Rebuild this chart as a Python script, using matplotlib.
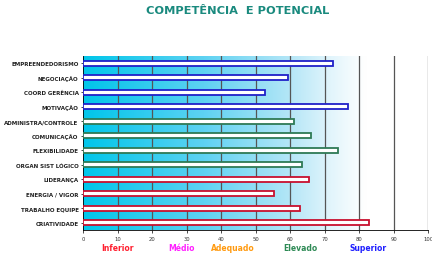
import numpy as np
import matplotlib
matplotlib.use('Agg')
from matplotlib import pyplot as plt
from matplotlib.colors import LinearSegmentedColormap

# Data
categories = ['EMPREENDEDORISMO', 'NEGOCIAÇÃO', 'COORD GERÊNCIA', 'MOTIVAÇÃO',
              'ADMINISTRA/CONTROLE', 'COMUNICAÇÃO', 'FLEXIBILIDADE', 'ORGAN SIST LÓGICO',
              'LIDERANÇA', 'ENERGIA / VIGOR', 'TRABALHO EQUIPE', 'CRIATIVIDADE']
values = [72.5, 59.3, 52.6, 76.8, 61.0, 65.9, 74.0, 63.3, 65.5, 55.4, 62.8, 82.9]
groups = ['blue'] * 4 + ['green'] * 4 + ['red'] * 4
levels = ['Inferior', 'Médio', 'Adequado', 'Elevado', 'Superior']
level_pos = [10, 28.5, 43.5, 63, 82.5]
x_ticks = list(range(0, 101, 10))

edge_colors = {'blue': '#2020c8', 'green': '#2e7a55', 'red': '#c8102e'}
level_colors = ['#ff2030', '#ff20ff', '#ff9a10', '#2e8a55', '#2020ff']

fig = plt.figure(figsize=(4.32, 2.55), dpi=100)
ax = fig.add_axes([0.193, 0.094, 0.798, 0.682])

# background gradient (cyan -> white)
cmap = LinearSegmentedColormap.from_list('bg', [(0.0, '#00c6ea'), (0.35, '#5ed2f2'),
                                                (0.6, '#b4e6f7'), (0.72, '#e2f5fc'),
                                                (0.82, '#ffffff'), (1.0, '#ffffff')])
grad = np.linspace(0, 1, 256).reshape(1, -1)
ax.imshow(grad, extent=[0, 100, -0.5, len(categories) - 0.5], aspect='auto',
          cmap=cmap, zorder=0, origin='lower')

# grid lines
for t in x_ticks[1:]:
    ax.axvline(t, color='#555555', lw=0.9, zorder=1)

y = np.arange(len(categories))
for yi, v, g in zip(y, values, groups):
    ax.barh(yi, v, height=0.36, color='white', edgecolor=edge_colors[g],
            linewidth=1.3, zorder=3)

ax.set_xlim(0, 100)
ax.set_ylim(len(categories) - 0.5, -0.5)
ax.set_xticks(x_ticks)
ax.set_xticklabels([str(t) for t in x_ticks], fontsize=3.8, color='#333333')
ax.set_yticks(y)
ax.set_yticklabels(categories, fontsize=4, fontweight='bold', color='#222222')
ax.tick_params(axis='x', length=2, width=0.5, pad=2)
ax.tick_params(axis='y', length=1.5, width=0.5, pad=2)
for s in ['top', 'right']:
    ax.spines[s].set_visible(False)
ax.spines['left'].set_linewidth(0.6)
ax.spines['bottom'].set_linewidth(0.6)

fig.text(0.55, 0.958, 'COMPETÊNCIA  E POTENCIAL', ha='center', va='center',
         fontsize=8.2, fontweight='bold', color='#1a8a7e')

for name, pos, c in zip(levels, level_pos, level_colors):
    xf = 0.193 + 0.798 * pos / 100
    fig.text(xf, 0.025, name, ha='center', va='center', fontsize=5.5,
             fontweight='bold', color=c)

fig.savefig('out.png', dpi=100)
